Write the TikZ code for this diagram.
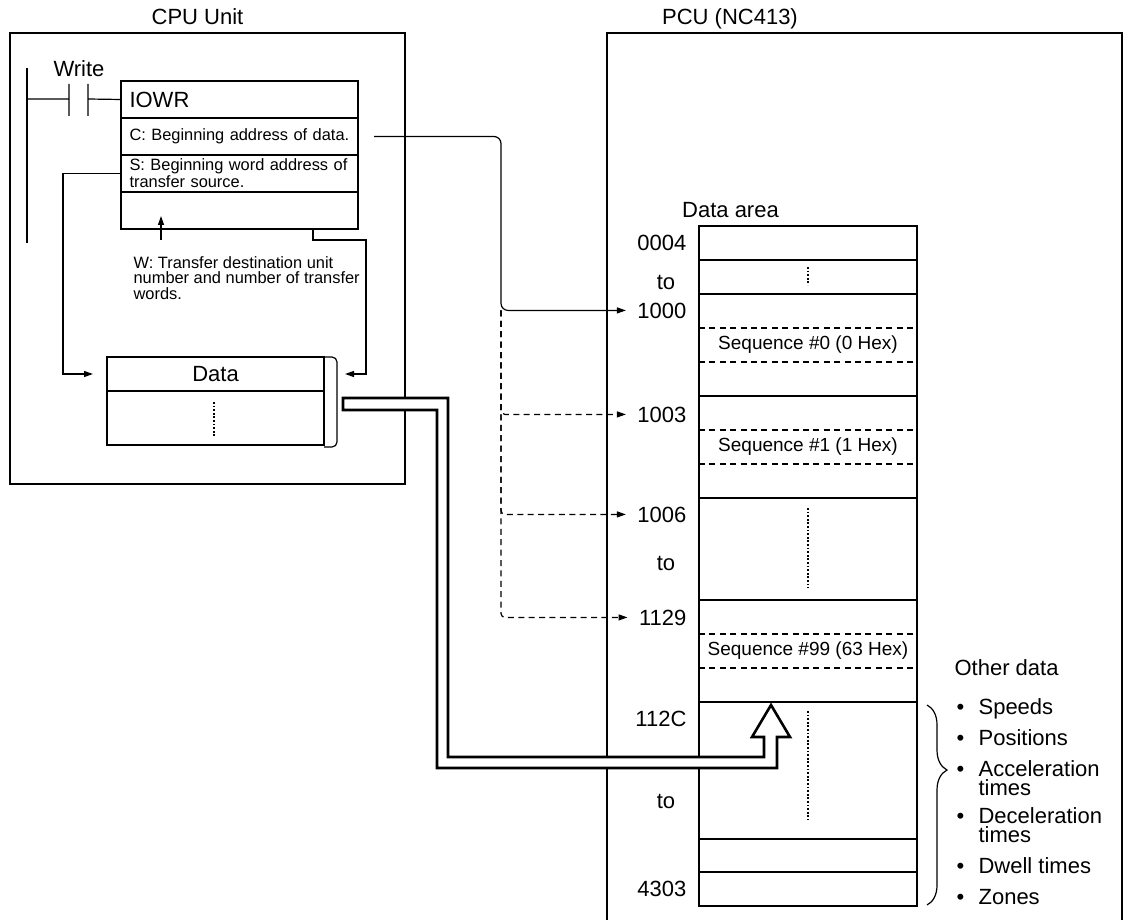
\documentclass[tikz,border=0pt]{standalone}
\usepackage{fontspec}
\setmainfont{Liberation Sans}
\usetikzlibrary{arrows.meta,positioning,calc,decorations.pathreplacing}
\newcommand{\bul}{\makebox[11pt][l]{\textbullet}}
\newcommand{\twoline}[2]{\vtop{\baselineskip=9.5pt\hbox{#1}\hbox{#2}}}

\begin{document}
\begin{tikzpicture}[x=0.5pt,y=-0.5pt,line width=0.6pt,font=\fontsize{11}{13}\selectfont,node distance=0pt]
\tikzset{iorow/.style={draw,outer sep=0pt,minimum width=118.5pt,minimum height=18.5pt,text width=110pt,inner xsep=4.25pt,inner ysep=1pt,align=left,font=\fontsize{8.2}{7.6}\selectfont},
  dcell/.style={draw,outer sep=0pt,inner sep=0pt,minimum width=108.5pt},
  addr/.style={anchor=base east,inner xsep=5.5pt,inner ysep=1pt},
  seq/.style={font=\fontsize{9.5}{11}\selectfont,inner sep=1pt},
  item/.style={anchor=base west,inner sep=0pt},
  arr/.style={-{Triangle[length=4.5pt,width=3pt]}},
  dsh/.style={dash pattern=on 3pt off 2.2pt},
  dotln/.style={line width=1pt,dash pattern=on 0.9pt off 0.9pt}}
\useasboundingbox (0,0) rectangle (1127,919);

\node[draw,inner sep=0pt,minimum width=197.5pt,minimum height=225.5pt] (cpu) at (207.5,258.5) {};
\node[anchor=base] (cpulbl) at (197.5,25) {CPU Unit};
\node[draw,inner sep=0pt,outer sep=0pt,minimum width=257.5pt,minimum height=460pt,anchor=north west] (pcu) at (607,33) {};
\node[anchor=base] (pculbl) at (730,25) {PCU (NC413)};

\node[iorow,font=\fontsize{11}{13}\selectfont,anchor=north west] (iowr) at (121,81) {IOWR};
\node[iorow,below=of iowr] (crow) {C: Beginning address of data.};
\node[iorow,below=of crow] (srow) {S: Beginning word address of\\transfer source.};
\node[iorow,below=of srow] (wrow) {};
\node[anchor=north west,align=left,inner sep=0pt,font=\fontsize{8.2}{7.75}\selectfont] (wtext) at (133,256) {W: Transfer destination unit\\number and number of transfer\\words.};
\node[anchor=base] (write) at (79,77) {Write};
\coordinate (rail) at (27,99);
\draw (27,68) -- (27,243);
\draw (rail) -- (69,99) (69,84) -- (69,116) (88,84) -- (88,116) (88,99) -- (iowr.west);

\node[dcell,minimum height=17pt,anchor=north west] (dtitle) at (107,357) {Data};
\node[dcell,minimum height=27pt,below=of dtitle] (dbody) {};
\draw[dotln] ($(dbody.north)+(-2,11)$) -- ($(dbody.south)+(-2,-8)$);
\draw[rounded corners=2.5pt] (dtitle.north east) -- ++(13,0) |- ($(dbody.south east)+(0,2)$);

\coordinate (wslot) at ($(wrow.south west)+(40,-13)$);
\coordinate (wfoot) at ($(wrow.south east)+(-45,0)$);
\draw[arr,shorten <=8pt] (wtext.north -| wslot) -- (wslot);
\draw[arr,shorten >=7pt] (srow.west) -- ++(-58,0) |- (dtitle.west);
\draw[arr,shorten >=10.5pt] (wfoot) -- ++(0,11) -| ($(dtitle.east)+(42,0)$) -- (dtitle.east);

\node[draw,inner sep=0pt,outer sep=0pt,minimum width=109pt,minimum height=340pt,anchor=north west] (area) at (699,226) {};
\node[anchor=base] (arealbl) at (730.5,218) {Data area};
\foreach \y in {260,294,396,498,600,702,839,872}
  \draw (699,\y) -- (917,\y);
\foreach \y in {328,362,430,464,634,668}
  \draw[dsh] (699,\y) -- (917,\y);
\draw[dotln] (808,267) -- (808,285);
\draw[dotln] (808,508) -- (808,588);
\draw[dotln] (808,711) -- (808,820);
\node[seq] (seq0) at (808,345) {Sequence \#0 (0 Hex)};
\node[seq] (seq1) at (808,447) {Sequence \#1 (1 Hex)};
\node[seq] (seq99) at (808,651) {Sequence \#99 (63 Hex)};

\node[addr] (a0004) at (698,251) {0004};
\node[anchor=base] (to1) at (666,290) {to};
\node[addr] (a1000) at (698,318) {1000};
\node[addr] (a1003) at (698,422) {1003};
\node[addr] (a1006) at (698,522) {1006};
\node[anchor=base] (to2) at (666,570) {to};
\node[addr] (a1129) at (698,625) {1129};
\node[addr] (a112C) at (698,726) {112C};
\node[anchor=base] (to3) at (666,808) {to};
\node[addr] (a4303) at (698,896) {4303};

\coordinate (cstart) at ($(crow.east)+(16,0)$);
\coordinate (bus) at (501,0);
\draw[arr,rounded corners=3.5pt] (cstart) -| (bus |- a1000.west) -- (a1000.west);
\foreach \t in {a1003,a1006,a1129}
  \draw[arr,dsh,rounded corners=2pt] (bus |- a1000.west) |- (\t.west);

\node[item] (other) at (954,675) {Other data};
\node[item] (i1) at (956,714) {\bul Speeds};
\node[item] (i2) at (956,745) {\bul Positions};
\node[item] (i3) at (956,776) {\bul\twoline{Acceleration}{times}};
\node[item] (i4) at (956,823) {\bul\twoline{Deceleration}{times}};
\node[item] (i5) at (956,873) {\bul Dwell times};
\node[item] (i6) at (956,904) {\bul Zones};
\draw[decorate,decoration={brace,amplitude=10pt,aspect=0.325}] (927,705) -- (927,905);

\draw[line width=1.3pt,fill=white] (343,398) -- (448,398) -- (448,757) -- (764,757) -- (764,737) -- (752,737) -- (771,705) -- (790,737) -- (777,737) -- (777,768) -- (437,768) -- (437,410) -- (343,410) -- cycle;
\end{tikzpicture}
\end{document}
